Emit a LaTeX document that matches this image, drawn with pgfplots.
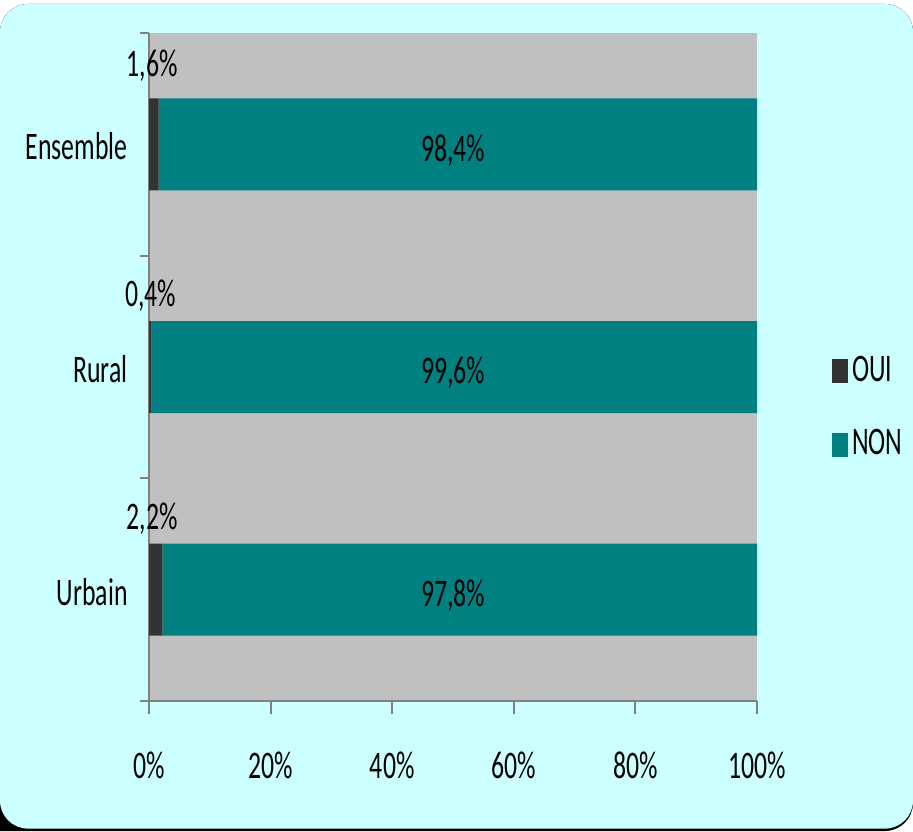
\documentclass[border=0pt]{standalone}
\usepackage{pgfplots}
\pgfplotsset{compat=1.18}
\usepackage{fontspec}
\setmainfont[FakeStretch=0.66]{Carlito}
\definecolor{bgc}{HTML}{CCFFFF}
\definecolor{plotbg}{HTML}{C0C0C0}
\definecolor{teal}{HTML}{008080}
\definecolor{oui}{HTML}{333333}
\definecolor{axgray}{HTML}{808080}
\begin{document}
\fontsize{19.5pt}{23pt}\selectfont
\begin{tikzpicture}[x=1pt,y=1pt]
\useasboundingbox (0,0) rectangle (456.5,415.5);
\fill[black] (0,0) [rounded corners=14pt] -- (0,413.5) -- (456.5,413.5) -- (456.5,0) [sharp corners] -- cycle;
\fill[bgc,rounded corners=14pt] (0,1.2) rectangle (456.5,413.5);
\begin{axis}[
  at={(74.5pt,65pt)}, anchor=south west,
  scale only axis, width=304pt, height=334pt,
  xbar stacked, bar width=46pt,
  xmin=0, xmax=100, ymin=-0.5, ymax=2.5,
  axis x line*=bottom, axis y line*=left,
  x axis line style={-,draw=axgray,line width=1.2pt},
  y axis line style={-,draw=axgray,line width=1.2pt},
  axis background/.style={fill=plotbg},
  xtick={0,20,40,60,80,100},
  xticklabels={0\%,20\%,40\%,60\%,80\%,100\%},
  ytick={0,1,2},
  yticklabels={Urbain,Rural,Ensemble},
  extra y ticks={-0.5,0.5,1.5,2.5},
  extra y tick labels={},
  extra y tick style={major tick length=4.5pt, tick style={draw=axgray,line width=1pt}},
  major tick length=0pt,
  tick align=outside,
  extra x ticks={0,20,40,60,80,100}, extra x tick labels={},
  extra x tick style={major tick length=6.5pt, tick style={draw=axgray,line width=1pt}},
  yticklabel style={anchor=east, inner sep=0pt, xshift=-10.5pt, yshift=-1pt},
  xticklabel style={anchor=north, inner sep=0pt, yshift=-25pt},
  legend style={at={(1.123,0.4386)}, anchor=west, draw=none, fill=none,
    inner sep=0pt, row sep=17pt, font=\fontsize{19.5pt}{23pt}\selectfont},
  legend cell align=left,
  area legend,
  legend image code/.code={\fill[#1] (0pt,-6pt) rectangle (8pt,6pt);},
]
\addplot[fill=oui, draw=none] coordinates {(2.2,0) (0.4,1) (1.6,2)};
\addplot[fill=teal, draw=none] coordinates {(97.8,0) (99.6,1) (98.4,2)};
\legend{OUI,NON}
\coordinate (n2) at (axis cs:50,2);
\coordinate (n1) at (axis cs:50,1);
\coordinate (n0) at (axis cs:50,0);
\coordinate (o2) at (axis cs:0.5,2.36);
\coordinate (o1) at (axis cs:0.3,1.33);
\coordinate (o0) at (axis cs:0.5,0.326);
\end{axis}
\node[yshift=-3pt] at (n2) {98,4\%};
\node[yshift=-3pt] at (n1) {99,6\%};
\node[yshift=-3pt] at (n0) {97,8\%};
\node[yshift=-1pt] at (o2) {1,6\%};
\node[yshift=-1pt] at (o1) {0,4\%};
\node[yshift=-1pt] at (o0) {2,2\%};
\end{tikzpicture}
\end{document}
